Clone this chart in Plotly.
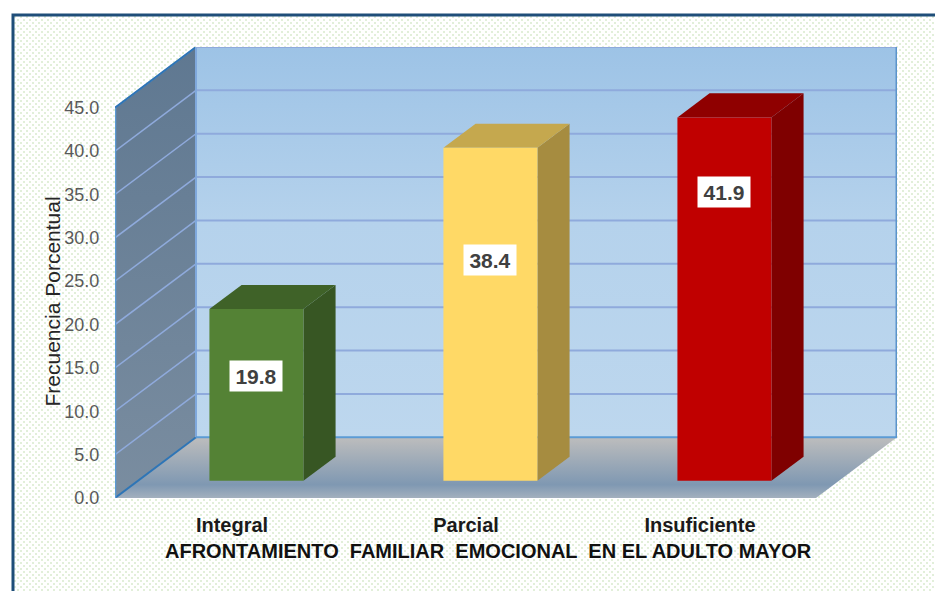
import base64
import plotly.graph_objects as go

categories = ["Integral", "Parcial", "Insuficiente"]
values = [19.8, 38.4, 41.9]
label_heights = [12.1, 25.5, 33.3]
y_ticks = [0, 5, 10, 15, 20, 25, 30, 35, 40, 45]
front_colors = ["#548235", "#FFD966", "#C00000"]
top_colors = ["#3F6228", "#C5A84E", "#8F0000"]
side_colors = ["#375623", "#A68C40", "#7F0000"]
y_title = "Frecuencia Porcentual"
x_title = "AFRONTAMIENTO  FAMILIAR  EMOCIONAL  EN EL ADULTO MAYOR"

W, H = 935, 591
L, R, T, B = 115, 897, 47, 498
CAT_PX = 234.0
X0, X1 = -0.5, (R - L) / CAT_PX - 0.5
Y1 = 52.0
DX = 81 / CAT_PX   # depth shift in category units
DY = 7.0           # depth shift in value units
D0, D1 = 0.283, 0.68
HALF = 47 / CAT_PX
NUDGE = 1.5 / CAT_PX


def pr(x, d, v):
    return x + d * DX, v + d * DY


def poly(points, color=None, grad=None, line=None, lw=0):
    xs, ys = zip(*[pr(*p) for p in points])
    kw = dict(fillcolor=color) if color else dict(
        fillgradient=dict(type="vertical", colorscale=grad))
    return go.Scatter(x=list(xs) + [xs[0]], y=list(ys) + [ys[0]], mode="lines", fill="toself",
                      line=dict(color=line or "rgba(0,0,0,0)", width=lw), hoverinfo="skip",
                      cliponaxis=False, **kw)


def seg(pairs, color, width):
    xs, ys = [], []
    for a, b in pairs:
        p, q = pr(*a), pr(*b)
        xs += [p[0], q[0], None]
        ys += [p[1], q[1], None]
    return go.Scatter(x=xs, y=ys, mode="lines", line=dict(color=color, width=width),
                      hoverinfo="skip", cliponaxis=False)


fig = go.Figure()
ymax = y_ticks[-1]
# back wall
fig.add_trace(poly([(X0, 1, 0), (X1 - DX, 1, 0), (X1 - DX, 1, ymax), (X0, 1, ymax)],
                   grad=[[0, "#BDD7EE"], [0.55, "#B5D2EC"], [1, "#9DC3E6"]]))
# left wall
fig.add_trace(poly([(X0, 0, 0), (X0, 1, 0), (X0, 1, ymax), (X0, 0, ymax)],
                   grad=[[0, "#7A8DA0"], [1, "#5F7891"]]))
# floor
fig.add_trace(poly([(X0, 0, 0), (X1 - DX, 0, 0), (X1 - DX, 1, 0), (X0, 1, 0)],
                   grad=[[0, "#A3B0BE"], [0.22, "#7F98B2"], [1, "#BDBDBD"]]))
# gridlines
grid = [v for v in y_ticks[1:]]
fig.add_trace(seg([((X0, 1, v), (X1 - DX, 1, v)) for v in grid], "#8FAADC", 2))
fig.add_trace(seg([((X0, 0, v), (X0, 1, v)) for v in grid], "#8FAADC", 1.5))
# wall edges
fig.add_trace(seg([((X0, 0, ymax), (X0, 1, ymax)), ((X0, 0, 0), (X0, 1, 0))], "#2E75B6", 2))
fig.add_trace(seg([((X0, 0, 0), (X0, 0, ymax))], "#5B9BD5", 2.5))
fig.add_trace(seg([((X0, 1, 0), (X0, 1, ymax))], "#7FA8DC", 2))
fig.add_trace(seg([((X0, 1, ymax), (X1 - DX, 1, ymax))], "#8FAADC", 2))
fig.add_trace(seg([((X0, 1, 0), (X1 - DX, 1, 0))], "#5B9BD5", 2))
fig.add_trace(seg([((X1 - DX, 1, 0), (X1 - DX, 1, ymax))], "#5B93CB", 3))

# bars
for i, v in enumerate(values):
    a, b = i - HALF + NUDGE, i + HALF + NUDGE
    fig.add_trace(poly([(b, D0, 0), (b, D1, 0), (b, D1, v), (b, D0, v)], color=side_colors[i]))
    fig.add_trace(poly([(a, D0, v), (b, D0, v), (b, D1, v), (a, D1, v)], color=top_colors[i]))
    fig.add_trace(poly([(a, D0, 0), (b, D0, 0), (b, D0, v), (a, D0, v)], color=front_colors[i]))
    cx, cy = pr(i + NUDGE, D0, label_heights[i])
    fig.add_annotation(x=cx, y=cy, xref="x", yref="y", text=f"<b>{v:.1f}</b>", showarrow=False,
                       bgcolor="white", width=50, height=28,
                       font=dict(family="Liberation Sans", size=21, color="#404040"))

svg = ('<svg xmlns="http://www.w3.org/2000/svg" width="922" height="576">'
       '<defs><pattern id="p" width="6" height="6" patternUnits="userSpaceOnUse">'
       '<rect width="6" height="6" fill="#ffffff"/>'
       '<rect x="1" y="1" width="2" height="2" fill="#E2EFDA"/>'
       '<rect x="4" y="4" width="2" height="2" fill="#E2EFDA"/>'
       '</pattern></defs><rect width="922" height="576" fill="url(#p)"/></svg>')
src = "data:image/svg+xml;base64," + base64.b64encode(svg.encode()).decode()


def px(xp):
    return (xp - L) / (R - L)


def py(yp):
    return (B - yp) / (B - T)


fig.add_annotation(x=px(38), y=py(302), xref="paper", yref="paper", text=y_title, textangle=-90,
                   showarrow=False, font=dict(size=21, color="#262626"))
fig.add_annotation(x=px(488.5), y=py(564), xref="paper", yref="paper", text=f"<b>{x_title}</b>",
                   showarrow=False, font=dict(size=20, color="#111111"))

fig.update_layout(
    width=W, height=H, showlegend=False, paper_bgcolor="white", plot_bgcolor="rgba(0,0,0,0)",
    margin=dict(l=L, r=W - R, t=T, b=H - B, pad=0),
    font=dict(family="Liberation Sans"),
    images=[dict(source=src, xref="paper", yref="paper", x=px(13), y=py(15),
                 sizex=922 / (R - L), sizey=576 / (B - T), sizing="stretch",
                 xanchor="left", yanchor="top", layer="below")],
    shapes=[dict(type="path", xref="paper", yref="paper",
                 path=f"M {px(13)} {py(595)} L {px(13)} {py(15)} L {px(940)} {py(15)}",
                 line=dict(color="#1F4E79", width=3))],
    xaxis=dict(range=[X0, X1], tickmode="array", tickvals=[0, 1, 2], ticktext=[f"<b>{c}</b>" for c in categories],
               showgrid=False, zeroline=False, showline=False, ticks="outside", ticklen=9,
               tickcolor="rgba(0,0,0,0)", tickfont=dict(size=20, color="#1A1A1A")),
    yaxis=dict(range=[0, Y1], tickmode="array", tickvals=y_ticks, tickformat=".1f",
               showgrid=False, zeroline=False, showline=False, ticks="outside", ticklen=11,
               tickcolor="rgba(0,0,0,0)", tickfont=dict(size=18, color="#595959")),
)
fig.write_html("out.html", config=dict(displayModeBar=False),
               post_script="document.body.style.margin='0';document.body.style.overflow='hidden';")
